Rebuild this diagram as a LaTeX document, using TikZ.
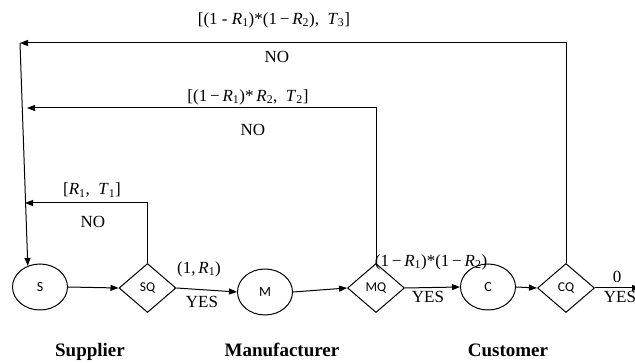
\documentclass[tikz,border=0pt]{standalone}
\usepackage{fontspec}
\setmainfont{Liberation Serif}
\newfontfamily\nodefont{Carlito}
\usetikzlibrary{arrows.meta,shapes.geometric}
\newcommand{\Rv}[1]{\textit{R}\textsubscript{#1}}
\newcommand{\Tv}[1]{\textit{T}\textsubscript{#1}}
\begin{document}
\begin{tikzpicture}[x=1pt,y=-1pt,
  lbl/.style={font=\fontsize{17}{19}\selectfont, inner sep=0pt},
  grp/.style={font=\fontsize{19}{21}\selectfont\bfseries, inner sep=0pt, anchor=base},
  oval/.style={draw, line width=1pt, ellipse, minimum width=55pt, minimum height=46pt, inner sep=0pt, font=\nodefont\fontsize{14}{16}\selectfont},
  dia/.style={draw, line width=1pt, diamond, aspect=1.16, minimum width=57pt, minimum height=49pt, inner sep=0pt, font=\nodefont\fontsize{13.5}{15}\selectfont},
  conn/.style={line width=1pt, -{Triangle[length=8pt,width=6pt]}}]
\useasboundingbox (0,0) rectangle (635,363);
\node[oval] (S) at (40,287) {S};
\node[dia] (SQ) at (147.5,288) {SQ};
\node[oval] (M) at (265,292) {M};
\node[dia] (MQ) at (376,288) {MQ};
\node[oval] (C) at (488,287) {C};
\node[dia] (CQ) at (566,288) {CQ};
\coordinate (out) at (640,288);
\coordinate (l1) at (25,203);
\coordinate (l2) at (27,108);
\coordinate (t3) at (20,43);

\draw[conn] (S.east) -- (SQ.west);
\draw[conn] (SQ.east) -- (M.west);
\draw[conn] (M.east) -- (MQ.west);
\draw[conn] (MQ.east) -- (C.west);
\draw[conn] (C.east) -- (CQ.west);
\draw[conn] (CQ.east) -- (out);
\draw[conn] (SQ.north) |- (l1);
\draw[conn] (MQ.north) |- (l2);
\draw[conn] (CQ.north) |- (t3);
\draw[conn] (t3) -- (S.120);

\node[lbl] (lab3) at (274,20) {[(1 - \Rv{1})*(1\,−\,\Rv{2}),\enspace\Tv{3}]};
\node[lbl] (no3) at (277,57) {NO};
\node[lbl] (lab2) at (248,97) {[(1\,−\,\Rv{1})*\,\Rv{2},\enspace\Tv{2}]};
\node[lbl] (no2) at (253,130) {NO};
\node[lbl] (lab1) at (92,190) {[\Rv{1},\enspace\Tv{1}]};
\node[lbl] (no1) at (93,222) {NO};
\node[lbl] (y1a) at (199,269) {(1,\,\Rv{1})};
\node[lbl] (y1b) at (202,302) {YES};
\node[lbl] (y2a) at (431,262) {(1\,−\,\Rv{1})*(1\,−\,\Rv{2})};
\node[lbl] (y2b) at (428,297) {YES};
\node[lbl] (y3a) at (617,277) {0};
\node[lbl] (y3b) at (620,297) {YES};

\node[grp] (g1) at (90,357) {Supplier};
\node[grp] (g2) at (282,357) {Manufacturer};
\node[grp] (g3) at (508,357) {Customer};
\end{tikzpicture}
\end{document}
